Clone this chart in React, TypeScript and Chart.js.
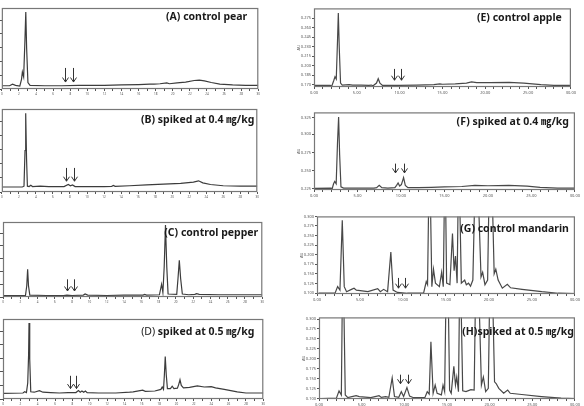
import React, { useEffect, useRef } from "react";
import { Chart, registerables } from "chart.js";
Chart.register(...registerables);

// ---------- data (time in min, signal in % of panel height) ----------
const A_TIME = [0, 0.9, 1.25, 1.6, 2.1, 2.3, 2.4, 2.55, 2.7, 2.8, 2.9, 3.05, 3.3, 5, 7, 9, 10, 12, 14, 16, 17.3, 17.8, 18.5, 19.3, 19.6, 20.5, 21.5, 22.5, 23.1, 23.7, 24.5, 25.5, 27, 28.5, 30];
const A_SIGNAL = [4, 4, 6, 4.5, 3.5, 12, 21, 15, 60, 95, 50, 8, 4.5, 4, 4, 4.5, 4.5, 4.5, 5, 5.5, 6, 6, 6.5, 7.5, 6.5, 7.5, 8.5, 10.5, 11, 10, 8, 6, 5, 4.5, 4.5];
const A_ARROWS = [7.44, 8.34];
const A_ARROW_Y = [26, 8.6];

const B_TIME = [0, 2.4, 2.6, 2.72, 2.8, 2.9, 3.0, 3.2, 3.4, 3.6, 4.5, 5.5, 7.3, 7.8, 8.05, 8.3, 8.6, 10, 12, 12.9, 13.1, 13.3, 15, 17, 19, 21, 22.5, 23.1, 23.6, 24.5, 26, 28, 30];
const B_SIGNAL = [6, 6, 7, 50, 95, 40, 7, 6.5, 8, 6.5, 7, 6.5, 6.5, 9, 7.5, 8.5, 6.5, 6.5, 6.5, 6.8, 7.8, 6.8, 7.5, 8.5, 9.5, 10.5, 12, 13.5, 11, 9, 7.5, 7, 7];
const B_ARROWS = [7.52, 8.52];
const B_ARROW_Y = [29, 13];

const C_TIME = [0, 2.6, 2.75, 2.85, 2.95, 3.1, 5, 7, 7.4, 8, 9.3, 9.5, 9.8, 12, 14, 16.2, 16.4, 16.6, 18.1, 18.35, 18.5, 18.65, 18.8, 18.95, 19.1, 20.1, 20.25, 20.4, 20.55, 20.75, 21.5, 22.2, 22.4, 22.7, 25, 30];
const C_SIGNAL = [2, 2, 15, 37, 15, 2.5, 2, 2, 2.5, 2, 2.5, 4, 2.5, 2, 2.5, 2.5, 3.5, 2.5, 3, 17, 6, 40, 96, 40, 4, 3.5, 25, 49, 25, 4, 3, 3.5, 4.5, 3.5, 3, 3];
const C_ARROWS = [7.42, 8.27];
const C_ARROW_Y = [23.6, 8];

const D_TIME = [0, 2.3, 2.5, 2.7, 2.85, 2.95, 3.0, 3.08, 3.2, 3.6, 4.2, 4.6, 5.5, 6.5, 7.5, 8.4, 8.7, 8.9, 9.1, 9.3, 9.5, 9.7, 11, 13, 14.6, 15, 16.1, 16.4, 17.5, 18.2, 18.35, 18.5, 18.6, 18.7, 18.82, 18.95, 19.3, 19.5, 19.7, 20.1, 20.25, 20.4, 20.55, 20.8, 21.5, 22.4, 23.2, 24, 24.5, 25.5, 27, 28, 30];
const D_SIGNAL = [7, 7.5, 9, 8, 20, 55, 95, 50, 9, 8.5, 10.5, 8.5, 8, 7.5, 8, 8, 10.5, 8.5, 10, 8.5, 10, 8, 7.5, 7.5, 8.5, 9, 11, 9.5, 10, 12, 15, 12, 30, 53, 30, 13, 13, 16, 13, 13.5, 18, 24, 17, 14, 14.5, 16.5, 15, 15.5, 14, 12, 9, 7.5, 7.5];
const D_ARROWS = [7.7, 8.47];
const D_ARROW_Y = [29, 13];

const E_TIME = [0, 1.9, 2.07, 2.3, 2.45, 2.6, 2.75, 2.84, 2.95, 3.1, 3.3, 4.1, 4.5, 5.5, 6.4, 6.7, 6.9, 7.3, 7.5, 7.7, 8, 10, 12, 14, 14.7, 15, 16.5, 17.8, 18.4, 19, 20.5, 22.8, 24.5, 26.5, 28, 30];
const E_SIGNAL = [2, 2, 1, 8, 13, 10, 60, 94, 50, 5, 2.5, 3, 2.5, 2.5, 2, 2.5, 1.5, 5, 10.5, 5, 2, 2, 2.5, 3, 4, 3.5, 4, 5, 6.5, 5.5, 5.5, 6, 5, 3, 2, 2];
const E_ARROWS = [9.34, 10.2];
const E_ARROW_Y = [23, 8.6];

const F_TIME = [0, 1.9, 2.1, 2.25, 2.38, 2.55, 2.7, 2.83, 2.95, 3.1, 3.4, 5, 6.9, 7.2, 7.5, 7.8, 8.5, 9.3, 9.5, 9.67, 9.85, 10.05, 10.3, 10.5, 10.8, 12, 13.5, 15, 17, 18.5, 20, 22.4, 24.5, 26, 28, 30];
const F_SIGNAL = [2, 2.5, 2, 8, 11, 8, 60, 94, 45, 4, 2.5, 2.5, 2.5, 3, 6, 3, 2.5, 3, 6, 9, 5, 7, 16, 6, 3, 3, 3.5, 4, 4.5, 6, 5.5, 6, 5, 3.5, 2.5, 2.5];
const F_ARROWS = [9.36, 10.3];
const F_ARROW_Y = [34, 22];

const G_TIME = [0.19, 2.1, 2.4, 2.67, 2.94, 3.17, 3.44, 4.01, 4.31, 4.58, 5.92, 7.06, 7.37, 7.75, 8.21, 8.59, 8.85, 9.35, 10.5, 12.4, 12.71, 12.86, 13.03, 13.15, 13.36, 13.55, 13.78, 14.24, 14.5, 14.69, 14.85, 14.93, 15.08, 15.46, 15.76, 15.95, 16.11, 16.3, 16.45, 16.55, 16.79, 17.18, 17.37, 17.63, 17.86, 18.13, 18.4, 18.7, 19.08, 19.27, 19.54, 19.85, 20.04, 20.34, 20.61, 20.8, 21.07, 21.56, 22.14, 22.52, 23.85, 26.15, 28.05, 29.96];
const G_SIGNAL = [1, 1, 9.5, 5, 95, 9.5, 3, 6, 7.5, 5, 3, 7, 3, 6, 3, 54, 5, 2, 1, 1, 16, 12, 150, 150, 9.5, 32, 14, 9.5, 28, 9.5, 150, 150, 14, 12, 78, 30, 49, 14, 150, 150, 14, 18, 12, 14, 10, 18, 150, 150, 22, 28, 12, 18, 150, 150, 26, 32, 18, 7.5, 12.5, 8, 6, 3, 1, 0.5];
const G_ARROWS = [9.43, 10.23];
const G_ARROW_Y = [20.7, 7.5];

const H_TIME = [0.31, 2.04, 2.35, 2.62, 2.76, 2.86, 3.08, 3.38, 4.35, 4.73, 6.08, 7.04, 7.31, 7.81, 8.19, 8.58, 8.85, 9.35, 9.65, 9.92, 10.31, 10.62, 11.08, 12.42, 12.69, 12.92, 13.12, 13.38, 13.62, 13.85, 14.35, 14.54, 14.73, 14.92, 15.12, 15.31, 15.5, 15.81, 16.0, 16.15, 16.35, 16.5, 16.6, 16.85, 17.23, 17.81, 18.19, 18.38, 18.69, 19.04, 19.27, 19.54, 19.85, 20.04, 20.31, 20.58, 20.77, 21.08, 21.65, 22.12, 22.42, 23.77, 26.08, 28.38, 29.96];
const H_SIGNAL = [0.4, 1, 10, 5, 150, 150, 5, 1.6, 4, 3, 1.6, 4, 2, 3, 2, 26, 3, 2, 9, 3, 14, 3.6, 1.6, 2, 9, 6, 70, 7, 17, 7, 5, 17, 9, 150, 150, 11, 7, 40, 17, 27, 9, 150, 150, 10, 9, 11.5, 11, 150, 150, 17, 27, 9, 13, 150, 150, 21, 19, 13, 7, 11, 7, 5.5, 3, 1, 0.4];
const H_ARROWS = [9.54, 10.38];
const H_ARROW_Y = [29.8, 18.7];

// tick positions (in % units) and labels of the right-hand detector axes
const E_Y_TICKS = [3, 15.1, 27.2, 39.3, 51.4, 63.5, 75.6, 87.7];
const E_Y_LABELS = ["0.170", "0.185", "0.200", "0.215", "0.230", "0.245", "0.260", "0.275"];
const F_Y_TICKS = [2, 25, 48, 72, 93];
const F_Y_LABELS = ["0.225", "0.250", "0.275", "0.300", "0.325"];
const G_Y_TICKS = [1, 13.4, 25.8, 38.2, 50.6, 63, 75.4, 87.8, 100];
const G_Y_LABELS = ["0.100", "0.125", "0.150", "0.175", "0.200", "0.225", "0.250", "0.275", "0.300"];
const H_Y_TICKS = [0.4, 12.6, 24.8, 37, 49.2, 61.4, 73.6, 85.8, 98];
const H_Y_LABELS = ["0.100", "0.125", "0.150", "0.175", "0.200", "0.225", "0.250", "0.275", "0.300"];

type Seg = { text: string; bold: boolean };
type PanelCfg = {
  side: "left" | "right";
  L: number; T: number; W: number; H: number;
  time: number[]; signal: number[];
  arrows: number[]; arrowY: number[];
  title: Seg[]; tr: number; tc: number;
  yTicks?: number[]; yLabels?: string[];
};

const PANELS: PanelCfg[] = [
  { side: "left", L: 1, T: 8, W: 258, H: 81, time: A_TIME, signal: A_SIGNAL, arrows: A_ARROWS, arrowY: A_ARROW_Y, title: [{ text: "(A) control pear", bold: true }], tr: 11, tc: 9 },
  { side: "left", L: 1, T: 109, W: 257, H: 83, time: B_TIME, signal: B_SIGNAL, arrows: B_ARROWS, arrowY: B_ARROW_Y, title: [{ text: "(B) spiked at 0.4 ㎎/kg", bold: true }], tr: 3, tc: 11 },
  { side: "left", L: 3, T: 222, W: 260, H: 75, time: C_TIME, signal: C_SIGNAL, arrows: C_ARROWS, arrowY: C_ARROW_Y, title: [{ text: "(C) control pepper", bold: true }], tr: 4, tc: 11 },
  { side: "left", L: 3, T: 319, W: 261, H: 80, time: D_TIME, signal: D_SIGNAL, arrows: D_ARROWS, arrowY: D_ARROW_Y, title: [{ text: "(D) ", bold: false }, { text: "spiked at 0.5 ㎎/kg", bold: true }], tr: 9, tc: 13 },
  { side: "right", L: 314, T: 6, W: 261, H: 81, time: E_TIME, signal: E_SIGNAL, arrows: E_ARROWS, arrowY: E_ARROW_Y, title: [{ text: "(E) control apple", bold: true }], tr: 9, tc: 10, yTicks: E_Y_TICKS, yLabels: E_Y_LABELS },
  { side: "right", L: 314, T: 110, W: 265, H: 80, time: F_TIME, signal: F_SIGNAL, arrows: F_ARROWS, arrowY: F_ARROW_Y, title: [{ text: "(F) spiked at 0.4 ㎎/kg", bold: true }], tr: 6, tc: 10, yTicks: F_Y_TICKS, yLabels: F_Y_LABELS },
  { side: "right", L: 317, T: 214, W: 262, H: 80, time: G_TIME, signal: G_SIGNAL, arrows: G_ARROWS, arrowY: G_ARROW_Y, title: [{ text: "(G) control mandarin", bold: true }], tr: 6, tc: 13, yTicks: G_Y_TICKS, yLabels: G_Y_LABELS },
  { side: "right", L: 319, T: 315, W: 260, H: 84, time: H_TIME, signal: H_SIGNAL, arrows: H_ARROWS, arrowY: H_ARROW_Y, title: [{ text: "(H)spiked at 0.5 ㎎/kg", bold: true }], tr: 1, tc: 15, yTicks: H_Y_TICKS, yLabels: H_Y_LABELS },
];

const FONT_FAMILY = '"Noto Sans", "Noto Sans CJK KR", sans-serif';
const TITLE_SIZE = 10.5;

function makeDecor(p: PanelCfg) {
  return {
    id: "decor",
    afterDatasetsDraw(chart: any) {
      const { ctx, chartArea: a, scales } = chart;
      ctx.save();
      // frame
      ctx.strokeStyle = "#777";
      ctx.lineWidth = 1.2;
      ctx.strokeRect(a.left + 0.5, a.top + 0.5, a.right - a.left - 1, a.bottom - a.top - 1);
      // arrows
      ctx.strokeStyle = "#333";
      ctx.lineWidth = 1;
      p.arrows.forEach((t) => {
        const x = Math.round(scales.x.getPixelForValue(t)) + 0.5;
        const y0 = scales.y.getPixelForValue(p.arrowY[0]);
        const y1 = scales.y.getPixelForValue(p.arrowY[1]);
        ctx.beginPath();
        ctx.moveTo(x, y0);
        ctx.lineTo(x, y1);
        ctx.moveTo(x - 3, y1 - 4.5);
        ctx.lineTo(x, y1);
        ctx.lineTo(x + 3, y1 - 4.5);
        ctx.stroke();
      });
      // title (right aligned, inside the frame)
      ctx.fillStyle = "#1a1a1a";
      ctx.textBaseline = "middle";
      ctx.textAlign = "left";
      const fontOf = (s: Seg) => `${s.bold ? "bold " : ""}${TITLE_SIZE}px ${FONT_FAMILY}`;
      let x = a.right - p.tr;
      const y = a.top + p.tc;
      for (let i = p.title.length - 1; i >= 0; i--) {
        const s = p.title[i];
        ctx.font = fontOf(s);
        const w = ctx.measureText(s.text).width;
        x -= w;
        ctx.fillText(s.text, x, y);
      }
      ctx.restore();
    },
  };
}

function Panel({ p }: { p: PanelCfg }) {
  const ref = useRef<HTMLCanvasElement | null>(null);
  const left = p.side === "left";
  const yw = left ? p.L : 18;
  const pt = 1;
  const pr = 2;
  const xh = left ? 9 : 10;
  const cw = yw + p.W + pr;
  const ch = pt + p.H + xh;

  useEffect(() => {
    if (!ref.current) return;
    const data = p.time.map((t, i) => ({ x: t, y: p.signal[i] }));
    const chart = new Chart(ref.current, {
      type: "line",
      data: {
        datasets: [
          {
            data,
            borderColor: left ? "#3c3c3c" : "#484848",
            borderWidth: 1.2,
            pointRadius: 0,
            tension: 0,
            fill: false,
            clip: 0,
          } as any,
        ],
      },
      options: {
        responsive: false,
        animation: false,
        events: [],
        layout: { padding: { top: pt, right: pr, left: 0, bottom: 0 } },
        plugins: { legend: { display: false }, tooltip: { enabled: false }, title: { display: false } },
        scales: {
          x: {
            type: "linear",
            min: 0,
            max: 30,
            afterFit: (s: any) => { s.height = xh; },
            border: { display: false },
            grid: { drawOnChartArea: false, drawTicks: true, tickLength: 2, color: "#555" },
            ticks: {
              stepSize: 1,
              autoSkip: false,
              maxRotation: 0,
              minRotation: 0,
              padding: 1,
              color: "#555",
              font: { size: left ? 3 : 4, family: FONT_FAMILY },
              callback: (v: any) => {
                const n = Number(v);
                if (left) return n % 2 === 0 ? String(n) : "";
                return n % 5 === 0 ? n.toFixed(2) : "";
              },
            },
          },
          y: {
            type: "linear",
            min: 0,
            max: 100,
            afterFit: (s: any) => { s.width = yw; },
            afterBuildTicks: left
              ? undefined
              : (s: any) => { s.ticks = (p.yTicks || []).map((v) => ({ value: v })); },
            border: { display: false },
            grid: { drawOnChartArea: false, drawTicks: true, tickLength: left ? 3 : 2, color: "#555" },
            title: left
              ? { display: false }
              : { display: true, text: "AU", font: { size: 4, family: FONT_FAMILY }, color: "#555", padding: 0 },
            ticks: left
              ? { display: false, stepSize: 17, includeBounds: false }
              : {
                  autoSkip: false,
                  padding: 1,
                  color: "#555",
                  font: { size: 4, family: FONT_FAMILY },
                  callback: (_v: any, i: number) => (p.yLabels || [])[i] ?? "",
                },
          },
        },
      } as any,
      plugins: [makeDecor(p)],
    });
    return () => chart.destroy();
  }, []);

  return (
    <canvas
      ref={ref}
      width={cw}
      height={ch}
      style={{ position: "absolute", left: p.L - yw, top: p.T - pt, width: cw, height: ch }}
    />
  );
}

export default function App() {
  return (
    <div style={{ position: "fixed", left: 0, top: 0, width: 584, height: 406, background: "#fff", overflow: "hidden" }}>
      {PANELS.map((p, i) => (
        <Panel key={i} p={p} />
      ))}
    </div>
  );
}
